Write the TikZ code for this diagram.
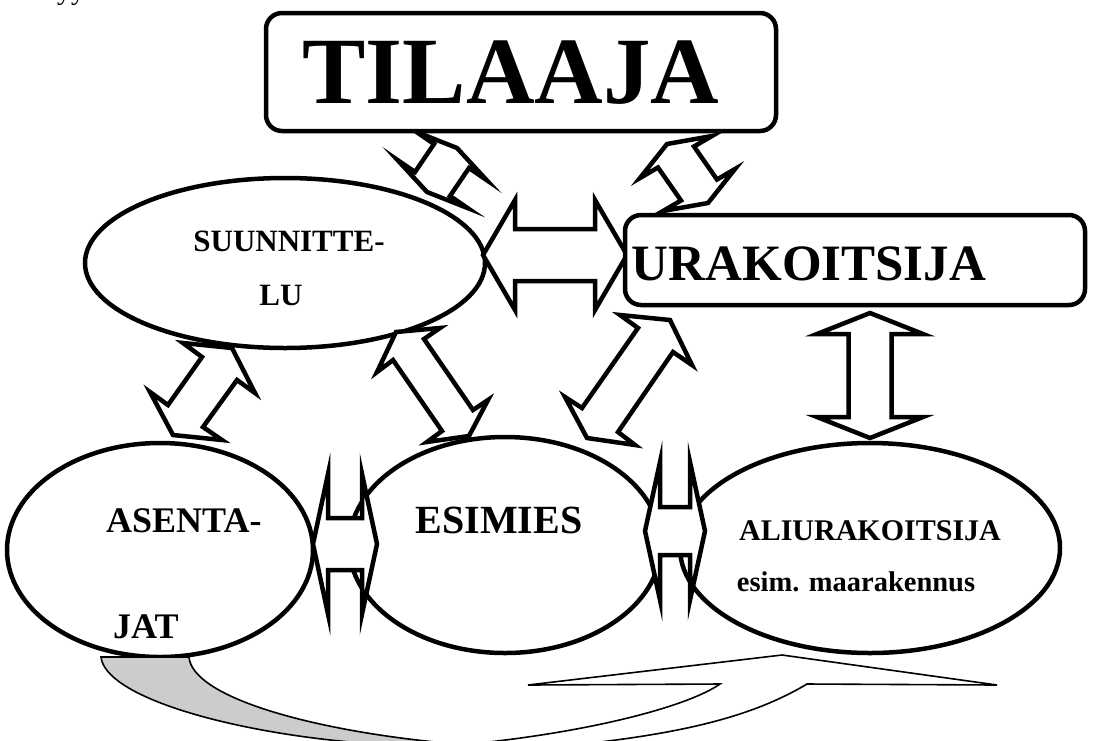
\documentclass[tikz,border=0pt]{standalone}
\usepackage{fontspec}
\setmainfont{Liberation Serif}
\usetikzlibrary{calc,shapes.geometric}
\newcommand\dblarr[5]{%
 \coordinate (qa) at ($(#1)!#3!(#2)$);
 \coordinate (qb) at ($(#2)!#3!(#1)$);
 \filldraw[blk] (#1) -- ($(qa)!#5!90:(#2)$) -- ($(qa)!#4!90:(#2)$) -- ($(qb)!#4!-90:(#1)$) -- ($(qb)!#5!-90:(#1)$) -- (#2) -- ($(qb)!#5!90:(#1)$) -- ($(qb)!#4!90:(#1)$) -- ($(qa)!#4!-90:(#2)$) -- ($(qa)!#5!-90:(#2)$) -- cycle;}
\begin{document}
\begin{tikzpicture}[x=1pt,y=-1pt,
  ln/.style={draw=black,line width=4.5pt},
  ell/.style={ellipse,ln,fill=white,inner sep=0pt},
  box/.style={rectangle,rounded corners=16pt,ln,fill=white,inner sep=0pt},
  blk/.style={ln,fill=white,miter limit=25,line join=miter},
  txt/.style={font=\bfseries\fontsize{#1}{#1}\selectfont,inner sep=0pt},
  band/.style={draw=black,line width=1.6pt}]
\useasboundingbox (0,0) rectangle (1094,740);
\clip (0,0) rectangle (1094,740);
% partial text at the top edge
\node[font=\fontsize{28}{28}\selectfont, anchor=base west, inner sep=0pt] (yy) at (57,-1) {yy};
% ellipses
\node[ell, minimum width=400pt, minimum height=170pt] (suun) at (285,263) {};
\node[ell, minimum width=306pt, minimum height=214pt] (asen) at (160,550) {};
\node[ell, minimum width=312pt, minimum height=216pt] (esim) at (505,545) {};
\node[ell, minimum width=380pt, minimum height=210pt] (aliu) at (870,548) {};
% straight block arrows
\coordinate (su1) at (483,255); \coordinate (su2) at (627,255);
\dblarr{su1}{su2}{32pt}{26pt}{55pt}
\coordinate (ua1) at (870,313); \coordinate (ua2) at (870,438);
\dblarr{ua1}{ua2}{21pt}{21.5pt}{53pt}
\coordinate (ae1) at (313,544); \coordinate (ae2) at (377,544);
\dblarr{ae1}{ae2}{15pt}{26pt}{70pt}
\coordinate (ea1) at (645,531); \coordinate (ea2) at (705,531);
\dblarr{ea1}{ea2}{15pt}{24pt}{69pt}
% tilted block arrows
\filldraw[blk] (457,148) -- (486.5,180) -- (469,168) -- (450,196) -- (467.5,208) -- (427,192) -- (397.5,160) -- (415,172) -- (434,144) -- (416.5,132) -- cycle;
\filldraw[blk] (667,144) -- (712,136) -- (694,146.5) -- (717,179.5) -- (735,169) -- (708,203) -- (663,211) -- (681,200.5) -- (658,167.5) -- (640,178) -- cycle;
\filldraw[blk] (232,348) -- (255,393) -- (237,380) -- (203,427) -- (222,440) -- (173,435) -- (150,392) -- (168,405) -- (202,357) -- (183,343) -- cycle;
\filldraw[blk] (440,328) -- (396,332) -- (377,372) -- (393,360) -- (442,431) -- (427,442) -- (469,436) -- (488,400) -- (473,410) -- (424,339) -- cycle;
\filldraw[blk] (620,315) -- (670,320) -- (692,365) -- (673,352) -- (618,432) -- (635,445) -- (587,438) -- (565,397) -- (582,408) -- (638,328) -- cycle;
% boxes
\node[box, minimum width=510pt, minimum height=118pt] (tila) at (521,72) {};
\node[box, minimum width=460pt, minimum height=90pt] (urak) at (855,260) {};
% curved arrow at the bottom
\filldraw[band, fill=gray!40] (101,657) -- (189,657) .. controls (192,695) and (300,728) .. (435,742) -- (435,760) -- (350,760) -- (350,742) .. controls (220,730) and (105,695) .. (101,657) -- cycle;
\filldraw[band, fill=white] (528,685) -- (782,655) -- (997,685) -- (807,684) .. controls (760,712) and (700,730) .. (600,742) -- (600,760) -- (480,760) -- (480,743) .. controls (600,730) and (690,705) .. (720,684) -- cycle;
% texts
\node[txt=95] (tilT) at (511,73) {TILAAJA};
\node[txt=51] (uraT) at (809,264) {URAKOITSIJA};
\node[txt=31] (suT1) at (289,241) {SUUNNITTE-};
\node[txt=31] (suT2) at (281,295) {LU};
\node[txt=36, anchor=west] (asT1) at (106,521) {ASENTA-};
\node[txt=36, anchor=west] (asT2) at (113,627) {JAT};
\node[txt=40] (esT) at (499,520) {ESIMIES};
\node[txt=30] (alT1) at (870,531) {ALIURAKOITSIJA};
\node[txt=28.5] (alT2) at (856,582) {esim. maarakennus};
\end{tikzpicture}
\end{document}
